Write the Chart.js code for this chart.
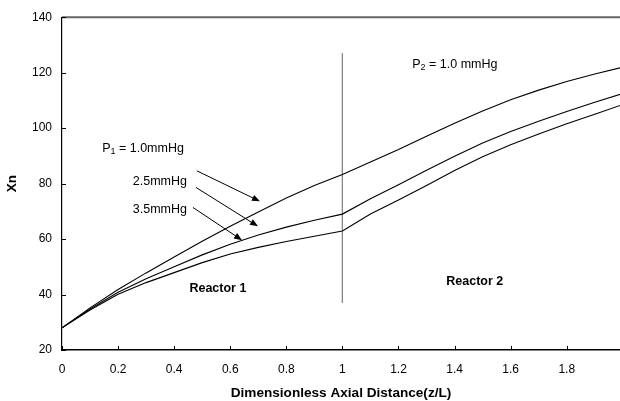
<!DOCTYPE html>
<html>
<head>
<meta charset="utf-8">
<script src="https://cdn.jsdelivr.net/npm/chart.js@4"></script>
<style>
html,body{margin:0;padding:0;background:#fff;}
#wrap{width:620px;height:401px;position:relative;}
</style>
</head>
<body>
<div id="wrap"><canvas id="c" width="620" height="401"></canvas></div>
<script>
// ---- data ----
const xValues   = [0,0.1,0.2,0.3,0.4,0.5,0.6,0.7,0.8,0.9,1.0,1.1,1.2,1.3,1.4,1.5,1.6,1.7,1.8,1.9,2.0];
const seriesP1_10 = [28,35.2,41.8,47.8,53.5,59.2,64.6,69.8,74.8,79.3,83.3,87.8,92.3,97.1,101.8,106.2,110.2,113.7,116.8,119.5,122];
const seriesP1_25 = [28,34.8,40.8,45.7,50,54.3,58.1,61.5,64.3,66.8,69,74.5,79.6,84.8,89.9,94.6,98.8,102.5,106,109.3,112.5];
const seriesP1_35 = [28,34.4,40.1,44.3,47.9,51.5,54.6,57,59.1,61,62.9,69,74.1,79.3,84.7,89.7,94,97.9,101.6,105,108.5];
const dividerX = [1,1];
const dividerY = [127,37];
const yTicks = [20,40,60,80,100,120,140];
const xTickStep = 0.2;
const xMax = 1.99;
const labelTexts = ["P|1| = 1.0mmHg","2.5mmHg","3.5mmHg","P|2| = 1.0 mmHg","Reactor 1","Reactor 2"];
const labelX = [0.289,0.349,0.349,1.401,0.556,1.472];
const labelY = [92.5,80.7,70.7,122.9,42.1,44.6];
const labelBold = [false,false,false,false,true,true];
const arrowFromX = [0.481,0.478,0.467];
const arrowFromY = [84.6,78.6,71.4];
const arrowToX = [0.706,0.699,0.642];
const arrowToY = [73.6,64.6,59.6];

const toPts = (ys) => xValues.map((x,i)=>({x:x,y:ys[i]}));
const lineStyle = {borderColor:'#000',borderWidth:1.1,pointRadius:0,tension:0,fill:false};

const annoPlugin = {
  id:'anno',
  afterDraw(chart){
    const {ctx, chartArea:a, scales:{x,y}} = chart;
    ctx.save();
    // top frame line
    ctx.strokeStyle='#666'; ctx.lineWidth=2;
    ctx.beginPath(); ctx.moveTo(a.left,a.top); ctx.lineTo(a.right,a.top); ctx.stroke();
    // inner ticks
    ctx.strokeStyle='#000'; ctx.lineWidth=1;
    y.ticks.forEach(t=>{const p=Math.round(y.getPixelForValue(t.value))+0.5;
      ctx.beginPath(); ctx.moveTo(a.left,p); ctx.lineTo(a.left+4,p); ctx.stroke();});
    x.ticks.forEach(t=>{const p=Math.round(x.getPixelForValue(t.value))+0.5;
      ctx.beginPath(); ctx.moveTo(p,a.bottom); ctx.lineTo(p,a.bottom-4); ctx.stroke();});
    // arrows
    for(let i=0;i<arrowFromX.length;i++){
      const x0=x.getPixelForValue(arrowFromX[i]), y0=y.getPixelForValue(arrowFromY[i]);
      const x1=x.getPixelForValue(arrowToX[i]), y1=y.getPixelForValue(arrowToY[i]);
      const ang=Math.atan2(y1-y0,x1-x0), L=8, W=3.2;
      ctx.strokeStyle='#000'; ctx.lineWidth=1;
      ctx.beginPath(); ctx.moveTo(x0,y0); ctx.lineTo(x1-Math.cos(ang)*L*0.8,y1-Math.sin(ang)*L*0.8); ctx.stroke();
      ctx.fillStyle='#000';
      ctx.beginPath();
      ctx.moveTo(x1,y1);
      ctx.lineTo(x1-Math.cos(ang)*L+Math.sin(ang)*W, y1-Math.sin(ang)*L-Math.cos(ang)*W);
      ctx.lineTo(x1-Math.cos(ang)*L-Math.sin(ang)*W, y1-Math.sin(ang)*L+Math.cos(ang)*W);
      ctx.closePath(); ctx.fill();
    }
    // labels
    ctx.fillStyle='#000'; ctx.textBaseline='middle';
    for(let i=0;i<labelTexts.length;i++){
      const cx=x.getPixelForValue(labelX[i]), cy=y.getPixelForValue(labelY[i]);
      const main=(labelBold[i]?'bold ':'')+'12.5px "Liberation Sans", Arial, sans-serif';
      const sub='9px "Liberation Sans", Arial, sans-serif';
      const parts=labelTexts[i].split('|');
      let w=0;
      parts.forEach((p,k)=>{ctx.font=(k%2)?sub:main; w+=ctx.measureText(p).width;});
      let px=cx-w/2;
      ctx.textAlign='left';
      parts.forEach((p,k)=>{ctx.font=(k%2)?sub:main; ctx.fillText(p,px,cy+((k%2)?3:0)); px+=ctx.measureText(p).width;});
    }
    ctx.restore();
  }
};

new Chart(document.getElementById('c'),{
  type:'line',
  data:{datasets:[
    Object.assign({label:'P1 = 1.0mmHg',data:toPts(seriesP1_10)},lineStyle),
    Object.assign({label:'2.5mmHg',data:toPts(seriesP1_25)},lineStyle),
    Object.assign({label:'3.5mmHg',data:toPts(seriesP1_35)},lineStyle),
    {label:'divider',data:dividerX.map((v,i)=>({x:v,y:dividerY[i]})),borderColor:'#888',borderWidth:1,pointRadius:0,tension:0}
  ]},
  options:{
    responsive:false,animation:false,
    layout:{padding:{top:14,right:0,left:0,bottom:0}},
    plugins:{legend:{display:false},tooltip:{enabled:false}},
    scales:{
      x:{type:'linear',min:0,max:xMax,
        afterFit(s){s.height=51;},
        grid:{display:false,drawTicks:false},
        border:{display:true,color:'#000',width:1.5},
        ticks:{stepSize:xTickStep,includeBounds:false,padding:12,color:'#000',
          font:{family:'"Liberation Sans", Arial, sans-serif',size:12},
          callback:(v)=>String(Number(v.toFixed(1)))},
        title:{display:true,text:'Dimensionless Axial Distance(z/L)',color:'#000',
          font:{family:'"Liberation Sans", Arial, sans-serif',size:13.6,weight:'bold'},padding:{top:2,bottom:0}}
      },
      y:{type:'linear',min:20,max:140,
        afterFit(s){s.width=62;},
        afterBuildTicks(s){s.ticks=yTicks.map(v=>({value:v}));},
        grid:{display:false,drawTicks:false},
        border:{display:true,color:'#000',width:1.2},
        ticks:{padding:10,color:'#000',
          font:{family:'"Liberation Sans", Arial, sans-serif',size:12}},
        title:{display:true,text:'Xn',color:'#000',
          font:{family:'"Liberation Sans", Arial, sans-serif',size:13.6,weight:'bold'},padding:{top:4,bottom:0}}
      }
    }
  },
  plugins:[annoPlugin]
});
</script>
</body>
</html>
